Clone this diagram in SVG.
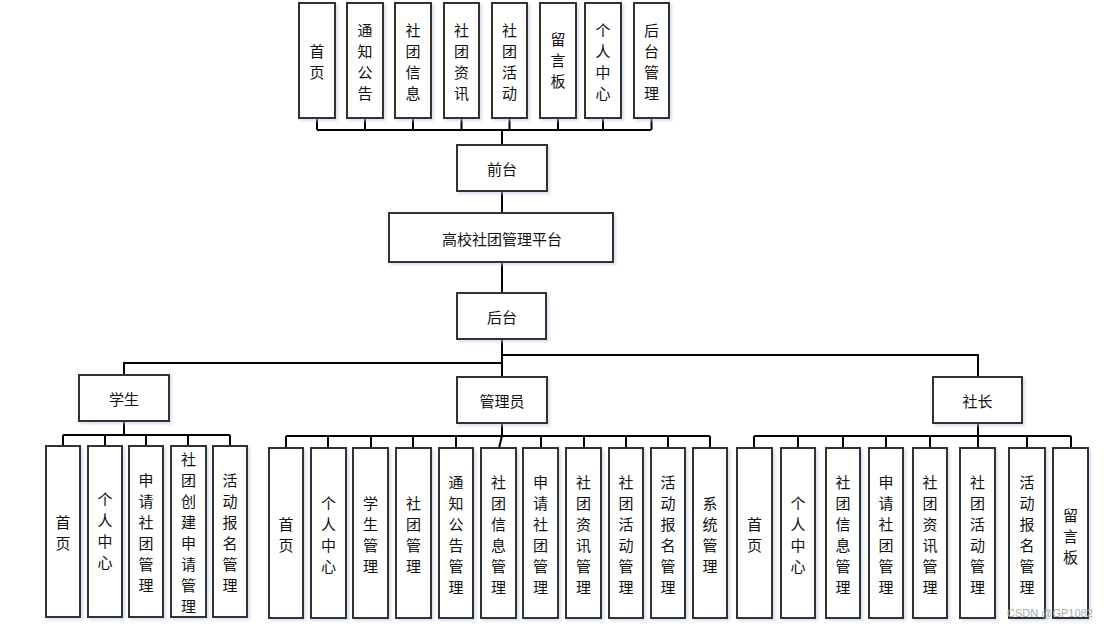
<svg xmlns="http://www.w3.org/2000/svg" width="1109" height="627" viewBox="0 0 1109 627">
<defs>
<filter id="sh" x="-20%" y="-20%" width="150%" height="150%">
<feDropShadow dx="2" dy="2" stdDeviation="1.5" flood-color="#b9cde8" flood-opacity="0.6"/>
</filter>
<style>
.box{fill:#fff;stroke:#333;stroke-width:2;filter:url(#sh)}
.t{font-family:"Noto Sans CJK SC","Noto Sans",sans-serif;font-size:15px;fill:#111;text-anchor:middle;dominant-baseline:central}
.ln{stroke:#000;stroke-width:2;fill:none}
.wm{font-family:"Liberation Sans",Arial,sans-serif;font-size:11px;fill:#aaa}
</style>
</defs>
<rect width="1109" height="627" fill="#fff"/>
<g id="connectors">
<path class="ln" d="M317,130H651M317,118V130M365,118V130M413,118V130M461.5,118V130M509.5,118V130M558,118V130M603,118V130M651.5,118V130M502,130V145"/>
<path class="ln" d="M502,191V213M502,262V293M502,339V377"/>
<path class="ln" d="M502,355H978V377M502,363H124V375"/>
<path class="ln" d="M124,421V435M63,435H230M63,435V446M105,435V446M146,435V446M188,435V446M230,435V446"/>
<path class="ln" d="M502,423V436M286,436H710M286,436V448M328,436V448M371,436V448M413,436V448M456,436V448M502,436L499,448M541,436V448M584,436V448M626,436V448M668,436V448M710,436V448"/>
<path class="ln" d="M978,423V436M754,436H1071M754,436V448M798,436V448M843,436V448M886,436V448M930,436V448M978,436V448M1027,436V448M1071,436V448"/>
</g>
<g id="n-top1"><rect class="box" x="299" y="3" width="36" height="115"/><text class="t" y="50"><tspan x="317">首</tspan><tspan x="317" dy="21">页</tspan></text></g>
<g id="n-top2"><rect class="box" x="347" y="3" width="36" height="115"/><text class="t" y="29"><tspan x="365">通</tspan><tspan x="365" dy="21">知</tspan><tspan x="365" dy="21">公</tspan><tspan x="365" dy="21">告</tspan></text></g>
<g id="n-top3"><rect class="box" x="395" y="3" width="36" height="115"/><text class="t" y="29"><tspan x="413">社</tspan><tspan x="413" dy="21">团</tspan><tspan x="413" dy="21">信</tspan><tspan x="413" dy="21">息</tspan></text></g>
<g id="n-top4"><rect class="box" x="444" y="3" width="35" height="115"/><text class="t" y="29"><tspan x="461.5">社</tspan><tspan x="461.5" dy="21">团</tspan><tspan x="461.5" dy="21">资</tspan><tspan x="461.5" dy="21">讯</tspan></text></g>
<g id="n-top5"><rect class="box" x="492" y="3" width="35" height="115"/><text class="t" y="29"><tspan x="509.5">社</tspan><tspan x="509.5" dy="21">团</tspan><tspan x="509.5" dy="21">活</tspan><tspan x="509.5" dy="21">动</tspan></text></g>
<g id="n-top6"><rect class="box" x="540" y="3" width="36" height="115"/><text class="t" y="38"><tspan x="558">留</tspan><tspan x="558" dy="21">言</tspan><tspan x="558" dy="21">板</tspan></text></g>
<g id="n-top7"><rect class="box" x="585" y="3" width="36" height="115"/><text class="t" y="29"><tspan x="603">个</tspan><tspan x="603" dy="21">人</tspan><tspan x="603" dy="21">中</tspan><tspan x="603" dy="21">心</tspan></text></g>
<g id="n-top8"><rect class="box" x="634" y="3" width="35" height="115"/><text class="t" y="29"><tspan x="651.5">后</tspan><tspan x="651.5" dy="21">台</tspan><tspan x="651.5" dy="21">管</tspan><tspan x="651.5" dy="21">理</tspan></text></g>
<g id="n-front"><rect class="box" x="457" y="145" width="90" height="46"/><text class="t" x="502" y="168">前台</text></g>
<g id="n-platform"><rect class="box" x="389" y="213" width="224" height="49"/><text class="t" x="502" y="238">高校社团管理平台</text></g>
<g id="n-back"><rect class="box" x="457" y="293" width="89" height="46"/><text class="t" x="502" y="316">后台</text></g>
<g id="n-student"><rect class="box" x="79" y="375" width="90" height="46"/><text class="t" x="124" y="398">学生</text></g>
<g id="n-admin"><rect class="box" x="457" y="377" width="90" height="46"/><text class="t" x="502" y="400">管理员</text></g>
<g id="n-leader"><rect class="box" x="933" y="377" width="89" height="46"/><text class="t" x="977.5" y="400">社长</text></g>
<g id="n-s1"><rect class="box" x="46" y="446" width="34" height="171"/><text class="t" y="521"><tspan x="63">首</tspan><tspan x="63" dy="21">页</tspan></text></g>
<g id="n-s2"><rect class="box" x="88" y="446" width="34" height="171"/><text class="t" y="498"><tspan x="105">个</tspan><tspan x="105" dy="21">人</tspan><tspan x="105" dy="21">中</tspan><tspan x="105" dy="21">心</tspan></text></g>
<g id="n-s3"><rect class="box" x="129" y="446" width="34" height="171"/><text class="t" y="479"><tspan x="146">申</tspan><tspan x="146" dy="21">请</tspan><tspan x="146" dy="21">社</tspan><tspan x="146" dy="21">团</tspan><tspan x="146" dy="21">管</tspan><tspan x="146" dy="21">理</tspan></text></g>
<g id="n-s4"><rect class="box" x="171" y="446" width="35" height="171"/><text class="t" y="458"><tspan x="188.5">社</tspan><tspan x="188.5" dy="21">团</tspan><tspan x="188.5" dy="21">创</tspan><tspan x="188.5" dy="21">建</tspan><tspan x="188.5" dy="21">申</tspan><tspan x="188.5" dy="21">请</tspan><tspan x="188.5" dy="21">管</tspan><tspan x="188.5" dy="21">理</tspan></text></g>
<g id="n-s5"><rect class="box" x="213" y="446" width="34" height="171"/><text class="t" y="479"><tspan x="230">活</tspan><tspan x="230" dy="21">动</tspan><tspan x="230" dy="21">报</tspan><tspan x="230" dy="21">名</tspan><tspan x="230" dy="21">管</tspan><tspan x="230" dy="21">理</tspan></text></g>
<g id="n-a1"><rect class="box" x="269" y="448" width="34" height="170"/><text class="t" y="522.5"><tspan x="286">首</tspan><tspan x="286" dy="21">页</tspan></text></g>
<g id="n-a2"><rect class="box" x="311" y="448" width="35" height="170"/><text class="t" y="501.5"><tspan x="328.5">个</tspan><tspan x="328.5" dy="21">人</tspan><tspan x="328.5" dy="21">中</tspan><tspan x="328.5" dy="21">心</tspan></text></g>
<g id="n-a3"><rect class="box" x="353" y="448" width="35" height="170"/><text class="t" y="501.5"><tspan x="370.5">学</tspan><tspan x="370.5" dy="21">生</tspan><tspan x="370.5" dy="21">管</tspan><tspan x="370.5" dy="21">理</tspan></text></g>
<g id="n-a4"><rect class="box" x="396" y="448" width="35" height="170"/><text class="t" y="501.5"><tspan x="413.5">社</tspan><tspan x="413.5" dy="21">团</tspan><tspan x="413.5" dy="21">管</tspan><tspan x="413.5" dy="21">理</tspan></text></g>
<g id="n-a5"><rect class="box" x="439" y="448" width="34" height="170"/><text class="t" y="480.5"><tspan x="456">通</tspan><tspan x="456" dy="21">知</tspan><tspan x="456" dy="21">公</tspan><tspan x="456" dy="21">告</tspan><tspan x="456" dy="21">管</tspan><tspan x="456" dy="21">理</tspan></text></g>
<g id="n-a6"><rect class="box" x="481" y="448" width="35" height="170"/><text class="t" y="480.5"><tspan x="498.5">社</tspan><tspan x="498.5" dy="21">团</tspan><tspan x="498.5" dy="21">信</tspan><tspan x="498.5" dy="21">息</tspan><tspan x="498.5" dy="21">管</tspan><tspan x="498.5" dy="21">理</tspan></text></g>
<g id="n-a7"><rect class="box" x="523" y="448" width="35" height="170"/><text class="t" y="480.5"><tspan x="540.5">申</tspan><tspan x="540.5" dy="21">请</tspan><tspan x="540.5" dy="21">社</tspan><tspan x="540.5" dy="21">团</tspan><tspan x="540.5" dy="21">管</tspan><tspan x="540.5" dy="21">理</tspan></text></g>
<g id="n-a8"><rect class="box" x="566" y="448" width="35" height="170"/><text class="t" y="480.5"><tspan x="583.5">社</tspan><tspan x="583.5" dy="21">团</tspan><tspan x="583.5" dy="21">资</tspan><tspan x="583.5" dy="21">讯</tspan><tspan x="583.5" dy="21">管</tspan><tspan x="583.5" dy="21">理</tspan></text></g>
<g id="n-a9"><rect class="box" x="609" y="448" width="34" height="170"/><text class="t" y="480.5"><tspan x="626">社</tspan><tspan x="626" dy="21">团</tspan><tspan x="626" dy="21">活</tspan><tspan x="626" dy="21">动</tspan><tspan x="626" dy="21">管</tspan><tspan x="626" dy="21">理</tspan></text></g>
<g id="n-a10"><rect class="box" x="651" y="448" width="34" height="170"/><text class="t" y="480.5"><tspan x="668">活</tspan><tspan x="668" dy="21">动</tspan><tspan x="668" dy="21">报</tspan><tspan x="668" dy="21">名</tspan><tspan x="668" dy="21">管</tspan><tspan x="668" dy="21">理</tspan></text></g>
<g id="n-a11"><rect class="box" x="693" y="448" width="34" height="170"/><text class="t" y="501.5"><tspan x="710">系</tspan><tspan x="710" dy="21">统</tspan><tspan x="710" dy="21">管</tspan><tspan x="710" dy="21">理</tspan></text></g>
<g id="n-l1"><rect class="box" x="737" y="448" width="35" height="170"/><text class="t" y="522.5"><tspan x="754.5">首</tspan><tspan x="754.5" dy="21">页</tspan></text></g>
<g id="n-l2"><rect class="box" x="781" y="448" width="34" height="170"/><text class="t" y="501.5"><tspan x="798">个</tspan><tspan x="798" dy="21">人</tspan><tspan x="798" dy="21">中</tspan><tspan x="798" dy="21">心</tspan></text></g>
<g id="n-l3"><rect class="box" x="826" y="448" width="34" height="170"/><text class="t" y="480.5"><tspan x="843">社</tspan><tspan x="843" dy="21">团</tspan><tspan x="843" dy="21">信</tspan><tspan x="843" dy="21">息</tspan><tspan x="843" dy="21">管</tspan><tspan x="843" dy="21">理</tspan></text></g>
<g id="n-l4"><rect class="box" x="869" y="448" width="34" height="170"/><text class="t" y="480.5"><tspan x="886">申</tspan><tspan x="886" dy="21">请</tspan><tspan x="886" dy="21">社</tspan><tspan x="886" dy="21">团</tspan><tspan x="886" dy="21">管</tspan><tspan x="886" dy="21">理</tspan></text></g>
<g id="n-l5"><rect class="box" x="913" y="448" width="34" height="170"/><text class="t" y="480.5"><tspan x="930">社</tspan><tspan x="930" dy="21">团</tspan><tspan x="930" dy="21">资</tspan><tspan x="930" dy="21">讯</tspan><tspan x="930" dy="21">管</tspan><tspan x="930" dy="21">理</tspan></text></g>
<g id="n-l6"><rect class="box" x="960" y="448" width="35" height="170"/><text class="t" y="480.5"><tspan x="977.5">社</tspan><tspan x="977.5" dy="21">团</tspan><tspan x="977.5" dy="21">活</tspan><tspan x="977.5" dy="21">动</tspan><tspan x="977.5" dy="21">管</tspan><tspan x="977.5" dy="21">理</tspan></text></g>
<g id="n-l7"><rect class="box" x="1009" y="448" width="36" height="170"/><text class="t" y="480.5"><tspan x="1027">活</tspan><tspan x="1027" dy="21">动</tspan><tspan x="1027" dy="21">报</tspan><tspan x="1027" dy="21">名</tspan><tspan x="1027" dy="21">管</tspan><tspan x="1027" dy="21">理</tspan></text></g>
<g id="n-l8"><rect class="box" x="1053" y="448" width="35" height="170"/><text class="t" y="514"><tspan x="1070.5">留</tspan><tspan x="1070.5" dy="21">言</tspan><tspan x="1070.5" dy="21">板</tspan></text></g>
<text class="wm" x="1007" y="617">CSDN @GP1082</text>
</svg>
